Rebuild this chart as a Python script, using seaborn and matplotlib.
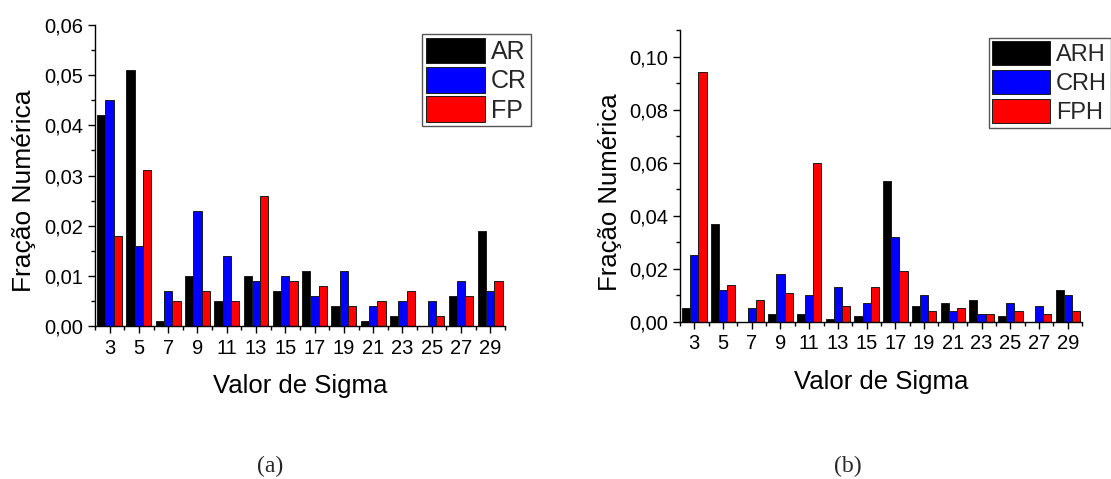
import matplotlib
matplotlib.use("Agg")
import matplotlib.pyplot as plt
from matplotlib.ticker import FuncFormatter, MultipleLocator, FixedLocator
import seaborn as sns
import pandas as pd

# Sigma values on the x axis
sigma = [3, 5, 7, 9, 11, 13, 15, 17, 19, 21, 23, 25, 27, 29]

# Panel (a)
ar = [0.042, 0.051, 0.001, 0.010, 0.005, 0.010, 0.007, 0.011, 0.004, 0.001, 0.002, 0.000, 0.006, 0.019]
cr = [0.045, 0.016, 0.007, 0.023, 0.014, 0.009, 0.010, 0.006, 0.011, 0.004, 0.005, 0.005, 0.009, 0.007]
fp = [0.018, 0.031, 0.005, 0.007, 0.005, 0.026, 0.009, 0.008, 0.004, 0.005, 0.007, 0.002, 0.006, 0.009]

# Panel (b)
arh = [0.005, 0.037, 0.000, 0.003, 0.003, 0.001, 0.002, 0.053, 0.006, 0.007, 0.008, 0.002, 0.000, 0.012]
crh = [0.025, 0.012, 0.005, 0.018, 0.010, 0.013, 0.007, 0.032, 0.010, 0.004, 0.003, 0.007, 0.006, 0.010]
fph = [0.094, 0.014, 0.008, 0.011, 0.060, 0.006, 0.013, 0.019, 0.004, 0.005, 0.003, 0.004, 0.003, 0.004]

labels_a = ["AR", "CR", "FP"]
labels_b = ["ARH", "CRH", "FPH"]
colors = ["#000000", "#0000FF", "#FF0000"]


def long_table(series, names):
    rows = []
    for name, vals in zip(names, series):
        for s, v in zip(sigma, vals):
            rows.append({"sigma": str(s), "valor": v, "serie": name})
    return pd.DataFrame(rows)


sns.set_style("ticks")
plt.rcParams["font.family"] = ["Liberation Sans", "DejaVu Sans"]

fig = plt.figure(figsize=(11.11, 4.79), dpi=100)
ax_a = fig.add_axes([0.0855, 0.3194, 0.369, 0.6284])
ax_b = fig.add_axes([0.612, 0.3284, 0.362, 0.609])

comma = FuncFormatter(lambda v, p: f"{v:.2f}".replace(".", ","))


def draw(ax, series, names, ymax, ystep, legend_xy, ylab_y, ylab_size,
         leg_size, leg_hlen, leg_hh, leg_sp):
    df = long_table(series, names)
    sns.barplot(data=df, x="sigma", y="valor", hue="serie",
                order=[str(s) for s in sigma], hue_order=names,
                palette=colors, width=0.85, gap=0,
                edgecolor="#1a1a1a", linewidth=0.7, saturation=1,
                errorbar=None, ax=ax)
    ax.set_xlim(-0.5, len(sigma) - 0.5)
    ax.set_ylim(0, ymax)
    ax.yaxis.set_major_locator(MultipleLocator(ystep))
    ax.yaxis.set_minor_locator(MultipleLocator(ystep / 2))
    ax.yaxis.set_major_formatter(comma)
    ax.xaxis.set_minor_locator(FixedLocator([i + 0.5 for i in range(-1, len(sigma))]))
    ax.tick_params(axis="both", which="major", direction="out", length=5, width=1,
                   labelsize=14.5, color="black", labelcolor="black")
    ax.tick_params(axis="both", which="minor", direction="out", length=3, width=1,
                   color="black")
    ax.tick_params(axis="x", which="major", pad=4)
    for side in ("top", "right"):
        ax.spines[side].set_visible(False)
    for side in ("left", "bottom"):
        ax.spines[side].set_color("black")
        ax.spines[side].set_linewidth(1)
    ax.set_xlabel("Valor de Sigma", fontsize=18.5, labelpad=12, color="black")
    ax.set_ylabel("Fração Numérica", fontsize=ylab_size, color="black")
    ax.yaxis.set_label_coords(-0.145, ylab_y)
    handles, labs = ax.get_legend_handles_labels()
    ax.legend(handles, labs, loc="upper left", bbox_to_anchor=legend_xy,
              bbox_transform=fig.transFigure, fontsize=leg_size, frameon=True,
              fancybox=False, edgecolor="#555555", framealpha=1,
              handlelength=leg_hlen, handleheight=leg_hh, labelspacing=leg_sp,
              borderpad=0.15, handletextpad=0.25, borderaxespad=0)


draw(ax_a, [ar, cr, fp], labels_a, 0.06, 0.01, (0.3798, 0.929), 0.449, 19,
     18, 2.36, 1.2, 0.12)
draw(ax_b, [arh, crh, fph], labels_b, 0.11, 0.02, (0.890, 0.921), 0.445, 18.5,
     17, 2.45, 1.18, 0.17)
ax_b.set_yticks([0, 0.02, 0.04, 0.06, 0.08, 0.10])

fig.text(270 / 1111, 1 - 466 / 479, "(a)", ha="center", va="center",
         fontsize=17, family=["Liberation Serif", "DejaVu Serif"])
fig.text(848 / 1111, 1 - 466 / 479, "(b)", ha="center", va="center",
         fontsize=17, family=["Liberation Serif", "DejaVu Serif"])

fig.savefig("out.png", dpi=100, facecolor="white")
